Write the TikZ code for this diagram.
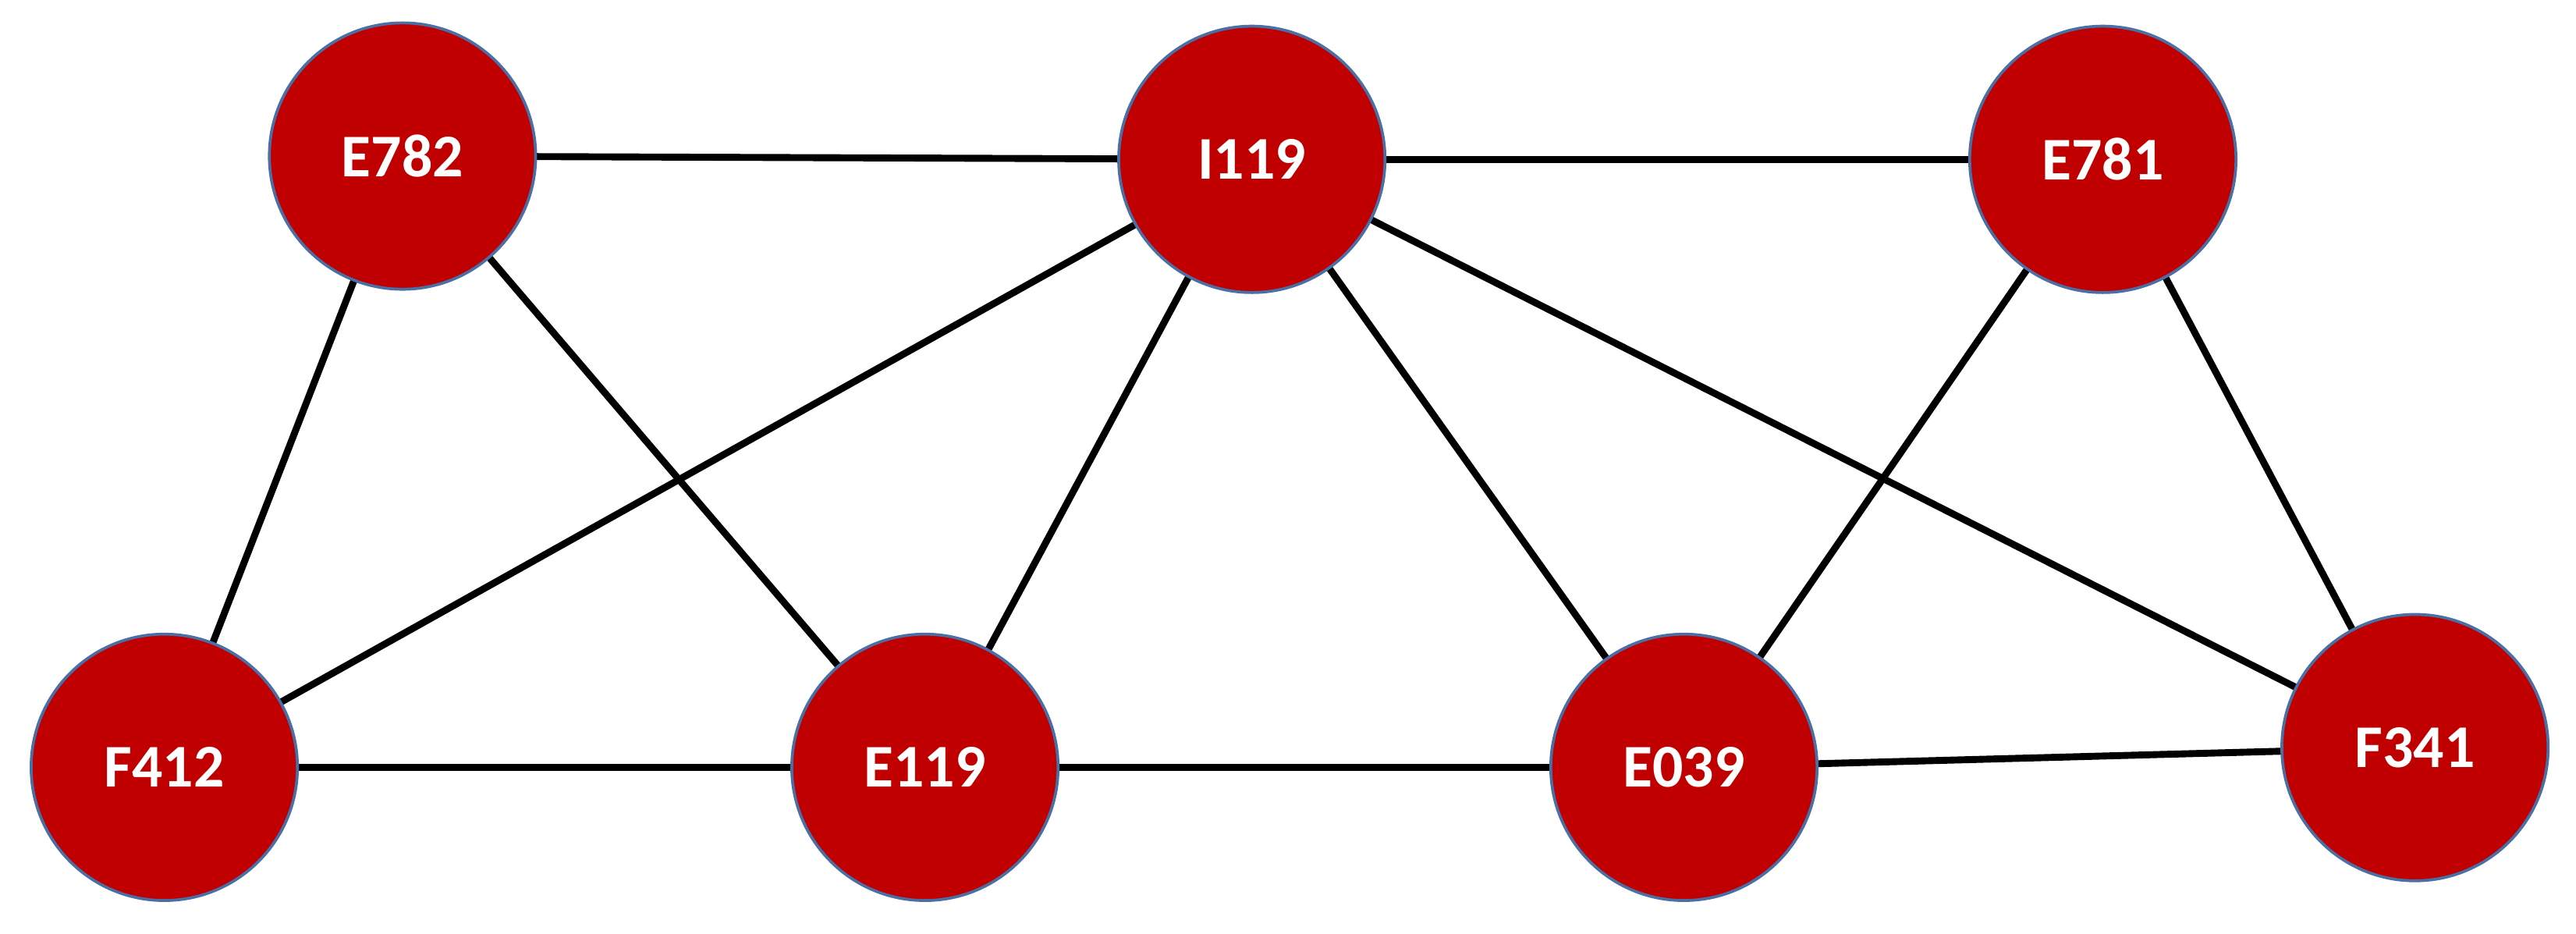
\documentclass[tikz,border=0pt]{standalone}
\usepackage{fontspec}
\setmainfont{Carlito}
\definecolor{nodered}{HTML}{C00000}
\definecolor{rim}{HTML}{4A6FA5}
\begin{document}
\begin{tikzpicture}[x=0.01cm,y=-0.01cm,
  vnode/.style={circle,fill=nodered,draw=rim,line width=0.5pt,minimum size=1.62cm,inner sep=0pt,text=white,font=\fontsize{10.5}{12}\selectfont\bfseries},
  edge/.style={line width=1.2pt,black}]
\useasboundingbox (0,0) rectangle (1568,568);
\path (245,95) coordinate (cE782) (762,97) coordinate (cI119) (1280,97) coordinate (cE781)
 (100,467) coordinate (cF412) (563,467) coordinate (cE119) (1025,467) coordinate (cE039) (1470,455) coordinate (cF341);
\foreach \a/\b in {E782/I119,I119/E781,E782/F412,E782/E119,I119/F412,I119/E119,I119/E039,I119/F341,E781/E039,E781/F341,F412/E119,E119/E039,E039/F341}
  \draw[edge] (c\a) -- (c\b);
\foreach \n in {E782,I119,E781,F412,E119,E039,F341}
  \node[vnode] (\n) at (c\n) {\n};
\end{tikzpicture}
\end{document}
